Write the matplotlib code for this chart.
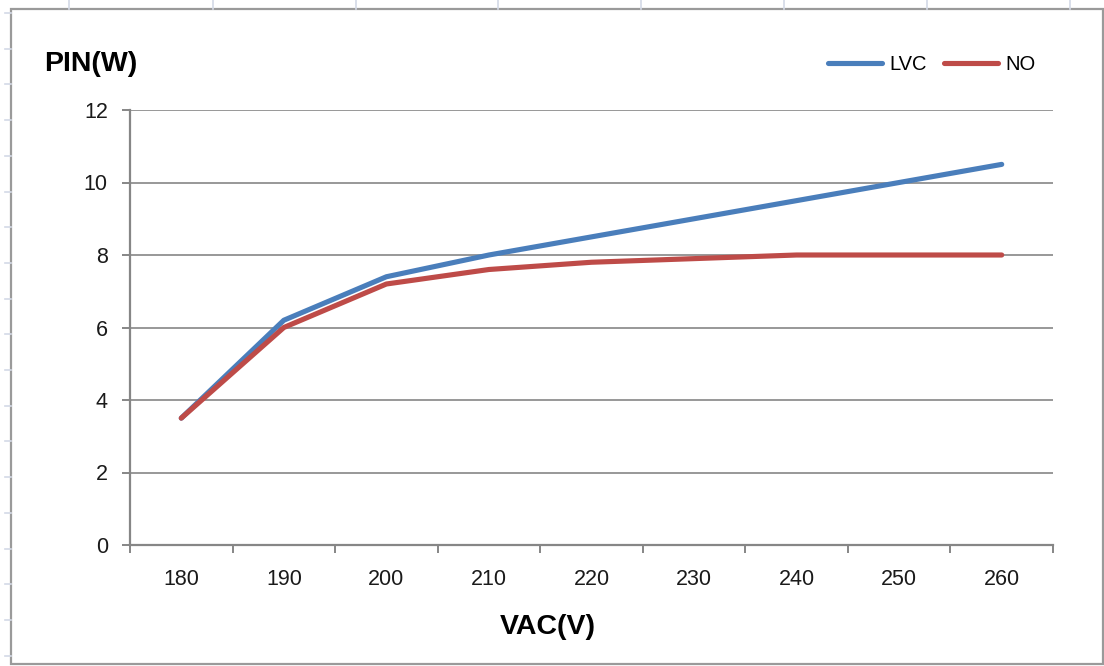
import numpy as np
import matplotlib.pyplot as plt
from matplotlib.lines import Line2D
from matplotlib.patches import Rectangle

vac = ['180', '190', '200', '210', '220', '230', '240', '250', '260']
lvc = [3.5, 6.2, 7.4, 8.0, 8.5, 9.0, 9.5, 10.0, 10.5]
no = [3.5, 6.0, 7.2, 7.6, 7.8, 7.9, 8.0, 8.0, 8.0]
yticks = [0, 2, 4, 6, 8, 10, 12]

W, H = 1104, 666
plt.rcParams['font.family'] = ['Liberation Sans', 'DejaVu Sans']

fig = plt.figure(figsize=(W / 100, H / 100), dpi=100)
fig.patch.set_facecolor('white')

def px(x, y):
    return x / W, 1 - y / H

# spreadsheet cell lines behind the chart
cell = '#d3d9e6'
for x in [69, 213, 356, 498, 641, 784, 927, 1070]:
    fig.add_artist(Line2D([x / W, x / W], [1, 1 - 9 / H], color=cell, lw=1.2))
for y in np.arange(13, 666, 35.7):
    fig.add_artist(Line2D([5 / W, 11 / W], [1 - y / H, 1 - y / H], color=cell, lw=1.2))

# chart border
fig.add_artist(Rectangle(px(11, 664), (1103 - 11) / W, (664 - 9) / H,
                         transform=fig.transFigure, fill=False,
                         edgecolor='#9a9a9a', lw=1.6))

ax = fig.add_axes([130 / W, 1 - 545 / H, (1053 - 130) / W, (545 - 110) / H])
x = np.arange(len(vac))
ax.plot(x, lvc, color='#4a7ebb', lw=3.7, label='LVC', solid_capstyle='round')
ax.plot(x, no, color='#be4b48', lw=3.7, label='NO', solid_capstyle='round')

ax.set_xlim(-0.5, len(vac) - 0.5)
ax.set_ylim(0, 12)
ax.set_yticks(yticks)
ax.set_xticks(x)
ax.set_xticklabels(vac)
ax.set_xticks(np.arange(-0.5, len(vac), 1), minor=True)
ax.tick_params(axis='x', which='major', length=0, pad=17, labelsize=15.5, labelcolor='#1a1a1a')
ax.tick_params(axis='x', which='minor', length=6, width=1.4, color='#868686', direction='out')
ax.tick_params(axis='y', length=6, width=1.4, color='#868686', pad=10, labelsize=15.5, labelcolor='#1a1a1a')
ax.yaxis.grid(True, color='#868686', lw=1.2)
ax.set_axisbelow(True)
for s in ['top', 'right']:
    ax.spines[s].set_visible(False)
for s in ['left', 'bottom']:
    ax.spines[s].set_color('#868686')
    ax.spines[s].set_linewidth(1.6)

fig.text(44 / W, 1 - 64 / H, 'PIN(W)', fontsize=20.5, fontweight='bold', va='center', ha='left')
fig.text(548 / W, 1 - 627 / H, 'VAC(V)', fontsize=20.5, fontweight='bold', va='center', ha='center')

ax.legend(loc='center left', bbox_to_anchor=px(828, 65), bbox_transform=fig.transFigure,
          ncol=2, frameon=False, fontsize=14.5, handlelength=2.7, handletextpad=0.35,
          columnspacing=0.85, borderpad=0, borderaxespad=0)

fig.savefig('out.png', dpi=100)
